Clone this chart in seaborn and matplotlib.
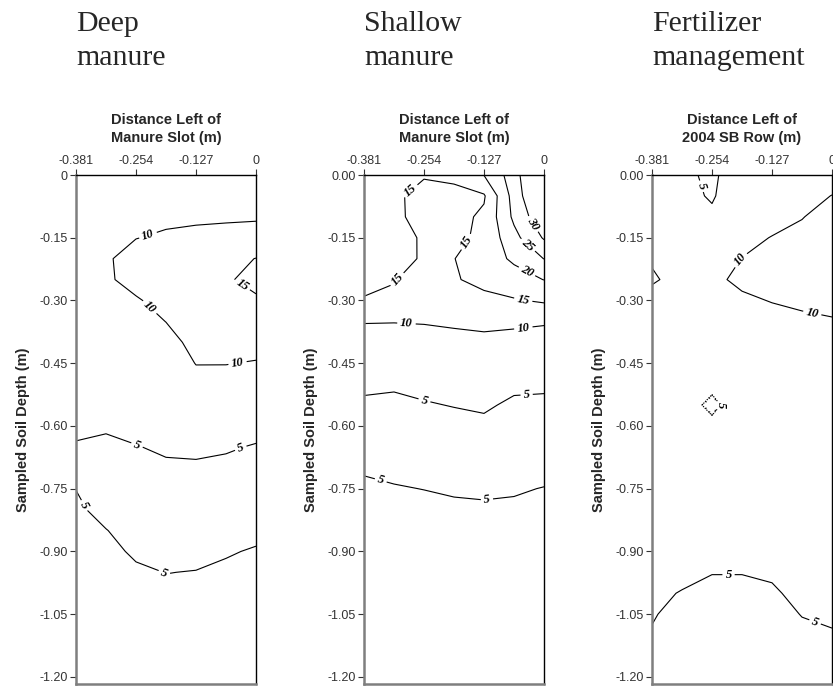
import numpy as np
import pandas as pd
import seaborn as sns
import matplotlib
matplotlib.use("Agg")
import matplotlib.pyplot as plt
from matplotlib import patheffects

# sampling grid: distance left of slot/row (m) and sampled depth (m)
distance = [-0.381, -0.3175, -0.254, -0.1905, -0.127, -0.0635, 0.0]
depth = [0.00, -0.05, -0.10, -0.15, -0.20, -0.25, -0.30, -0.35, -0.40,
         -0.45, -0.50, -0.55, -0.60, -0.65, -0.70, -0.75, -0.80, -0.85,
         -0.90, -0.95, -1.00, -1.05, -1.10, -1.15, -1.20]

# soil values, one list per distance column (top to bottom)
deep_manure = [
    [6.6, 7.0, 7.6, 8.2, 8.7, 8.6, 8.1, 7.6, 7.1, 6.7, 6.3, 5.9, 5.5, 4.8, 4.3, 4.95, 5.6, 6.0, 6.3, 6.5, 6.6, 6.6, 6.6, 6.6, 6.5],
    [6.8, 7.3, 8.0, 8.8, 9.5, 9.4, 8.7, 8.0, 7.4, 6.9, 6.4, 5.9, 5.3, 4.5, 3.9, 3.6, 3.9, 5.1, 5.9, 6.2, 6.4, 6.5, 6.5, 6.5, 6.4],
    [7.0, 7.6, 8.5, 9.9, 11.6, 11.4, 9.6, 8.5, 7.8, 7.3, 6.9, 6.4, 5.8, 4.9, 4.2, 3.7, 3.5, 3.7, 4.5, 5.5, 5.9, 6.1, 6.2, 6.2, 6.1],
    [7.2, 8.0, 9.1, 10.6, 12.0, 12.2, 11.4, 10.05, 8.8, 7.9, 7.2, 6.6, 6.0, 5.4, 4.6, 3.9, 3.5, 3.5, 3.9, 4.95, 5.6, 6.0, 6.1, 6.1, 6.0],
    [7.4, 8.3, 9.4, 10.9, 12.4, 12.8, 12.4, 11.8, 11.0, 10.1, 8.9, 7.8, 6.6, 5.6, 4.6, 3.9, 3.5, 3.6, 4.1, 5.1, 5.7, 6.0, 6.1, 6.1, 6.0],
    [7.8, 8.6, 9.5, 11.2, 13.6, 14.4, 13.6, 12.2, 11.0, 10.1, 8.8, 7.5, 6.2, 5.3, 4.4, 3.8, 3.6, 3.9, 4.8, 5.4, 5.9, 6.2, 6.3, 6.3, 6.2],
    [8.0, 8.8, 9.6, 11.5, 15.1, 16.5, 14.3, 12.6, 11.2, 9.8, 8.4, 7.2, 6.0, 4.8, 4.0, 3.6, 3.8, 4.4, 5.2, 5.8, 6.2, 6.5, 6.6, 6.6, 6.5],
]
shallow_manure = [
    [17.0, 16.8, 16.7, 16.6, 16.3, 15.8, 14.8, 10.15, 8.7, 7.0, 5.6, 4.5, 3.9, 3.8, 4.75, 5.4, 5.9, 6.2, 6.4, 6.5, 6.5, 6.5, 6.5, 6.4, 6.3],
    [16.8, 16.1, 16.1, 16.6, 16.3, 15.16, 14.4, 10.1, 8.7, 7.2, 5.3, 4.5, 4.0, 3.8, 4.3, 5.2, 5.9, 6.2, 6.4, 6.5, 6.5, 6.5, 6.5, 6.4, 6.3],
    [15.5, 13.0, 13.2, 14.5, 14.6, 13.8, 12.8, 10.2, 8.8, 7.2, 5.7, 4.8, 4.0, 3.6, 4.0, 4.95, 5.8, 6.2, 6.4, 6.5, 6.5, 6.5, 6.5, 6.4, 6.3],
    [16.0, 13.7, 13.5, 13.9, 14.9, 14.6, 13.0, 10.6, 8.8, 7.4, 6.2, 5.1, 4.2, 3.6, 3.8, 4.6, 5.6, 6.1, 6.3, 6.4, 6.4, 6.4, 6.4, 6.3, 6.2],
    [20.1, 14.5, 15.8, 16.0, 17.5, 16.3, 13.8, 11.0, 9.0, 7.6, 6.4, 5.4, 4.4, 3.5, 3.7, 4.3, 5.6, 6.1, 6.3, 6.4, 6.4, 6.4, 6.4, 6.3, 6.2],
    [27.5, 27.0, 26.0, 23.5, 20.8, 18.0, 14.6, 10.8, 8.6, 7.2, 5.6, 4.5, 3.7, 3.4, 3.7, 4.7, 5.5, 6.0, 6.2, 6.3, 6.3, 6.3, 6.3, 6.2, 6.1],
    [40.0, 37.5, 34.0, 30.5, 25.1, 20.1, 15.6, 10.4, 8.4, 7.2, 5.5, 4.4, 3.8, 3.6, 4.0, 5.1, 5.8, 6.2, 6.4, 6.5, 6.5, 6.5, 6.5, 6.4, 6.3],
]
fertilizer = [
    [6.0, 6.4, 7.0, 7.9, 9.6, 10.5, 8.5, 7.6, 7.0, 6.6, 6.3, 6.1, 6.0, 6.0, 6.0, 5.9, 5.8, 5.7, 5.5, 5.35, 5.2, 5.1, 4.9, 4.7, 4.5],
    [5.8, 6.2, 6.8, 7.5, 8.3, 8.6, 8.0, 7.4, 6.9, 6.5, 6.2, 5.8, 6.0, 6.1, 6.1, 6.0, 5.9, 5.7, 5.5, 5.25, 4.95, 4.6, 4.4, 4.2, 4.1],
    [4.3, 4.6, 5.7, 7.0, 8.6, 9.5, 8.6, 7.8, 7.0, 6.4, 5.4, 4.6, 5.4, 6.0, 6.0, 5.95, 5.9, 5.8, 5.5, 5.05, 4.6, 4.3, 4.1, 4.0, 3.9],
    [7.4, 7.8, 8.4, 9.2, 10.05, 10.5, 9.6, 8.8, 8.0, 7.4, 6.6, 6.0, 6.2, 6.3, 6.2, 6.1, 6.0, 5.8, 5.5, 5.05, 4.6, 4.4, 4.2, 4.0, 3.9],
    [7.9, 8.4, 9.0, 10.1, 10.9, 10.8, 10.1, 9.2, 8.2, 7.5, 7.0, 6.7, 6.5, 6.4, 6.3, 6.2, 6.1, 5.9, 5.6, 5.2, 4.8, 4.5, 4.3, 4.1, 4.0],
    [8.6, 9.2, 9.85, 11.0, 11.6, 11.4, 10.6, 9.4, 8.3, 7.6, 7.1, 6.8, 6.6, 6.4, 6.3, 6.2, 6.1, 6.0, 5.9, 5.7, 5.4, 5.05, 4.7, 4.4, 4.2],
    [9.0, 10.05, 11.5, 12.5, 13.0, 12.8, 11.5, 9.6, 8.5, 7.8, 7.3, 7.0, 6.8, 6.6, 6.4, 6.3, 6.2, 6.0, 5.9, 5.7, 5.5, 5.2, 4.9, 4.6, 4.3],
]

titles = ["Deep\nmanure", "Shallow\nmanure", "Fertilizer\nmanagement"]
xlabels = ["Distance Left of\nManure Slot (m)", "Distance Left of\nManure Slot (m)",
           "Distance Left of\n2004 SB Row (m)"]
levels = [[5, 10, 15], [5, 10, 15, 20, 25, 30], [5, 10]]
x_ticks = [-0.381, -0.254, -0.127, 0.0]
x_tick_labels = ["-0.381", "-0.254", "-0.127", "0"]
y_ticks = [0.0, -0.15, -0.30, -0.45, -0.60, -0.75, -0.90, -1.05, -1.20]

# where the contour labels sit
label_spots = [
    [(-0.231, -0.136), (-0.224, -0.315), (-0.039, -0.45), (-0.032, -0.267),
     (-0.252, -0.646), (-0.032, -0.654), (-0.355, -0.785), (-0.195, -0.953)],
    [(-0.284, -0.036), (-0.164, -0.16), (-0.305, -0.255), (-0.044, -0.299),
     (-0.033, -0.124), (-0.040, -0.175), (-0.040, -0.239), (-0.291, -0.353),
     (-0.044, -0.363), (-0.252, -0.534), (-0.037, -0.521), (-0.347, -0.736),
     (-0.121, -0.774)],
    [(-0.291, -0.032), (-0.191, -0.205), (-0.043, -0.337), (-0.219, -0.943),
     (-0.036, -1.069)],
]

sns.set_style("white")
plt.rcParams["font.family"] = ["Liberation Sans", "DejaVu Sans"]

label_font = {"font.family": ["Liberation Serif"], "font.weight": "bold",
              "font.style": "italic"}

fig = plt.figure(figsize=(8.33, 6.87), dpi=100)
lefts = [76, 364, 652]

for i, grid in enumerate([deep_manure, shallow_manure, fertilizer]):
    df = pd.DataFrame(np.array(grid).T, index=depth, columns=distance)
    ax = fig.add_axes([lefts[i] / 833, 3 / 687, 180 / 833, 509 / 687])

    z = np.ma.masked_array(df.values, mask=np.zeros(df.shape, bool))
    if i == 2:
        # the small depression is drawn separately with hachures
        z.mask[11, 2] = True
    cs = ax.contour(df.columns, df.index, z, levels=levels[i],
                    colors="black", linewidths=0.8)
    with plt.rc_context(label_font):
        ax.clabel(cs, fmt="%d", fontsize=9, inline=True, inline_spacing=3,
                  manual=label_spots[i])

    if i == 2:
        sub = df.iloc[10:13, 1:4]
        cd = ax.contour(sub.columns, sub.index, sub.values, levels=[5],
                        colors="black", linewidths=0.8,
                        linestyles=[(0, (1.2, 1.0))])
        cd.set_path_effects([patheffects.withTickedStroke(spacing=3.5, angle=90, length=0.5)])
        with plt.rc_context(label_font):
            ax.clabel(cd, fmt="%d", fontsize=9, inline=True, inline_spacing=2,
                      manual=[(-0.230, -0.553)])

    ax.set_xlim(-0.381, 0)
    ax.set_ylim(-1.217, 0)
    ax.xaxis.tick_top()
    ax.xaxis.set_label_position("top")
    ax.set_xticks(x_ticks)
    ax.set_xticklabels(x_tick_labels)
    ax.set_yticks(y_ticks)
    ylabs = [f"{v:.2f}" for v in y_ticks]
    if i == 0:
        ylabs[0] = "0"
    ax.set_yticklabels(ylabs)
    ax.tick_params(axis="both", direction="out", length=4.5, width=0.8,
                   color="#333333", labelsize=9, labelcolor="#333333", pad=1.5)
    ax.tick_params(axis="x", top=True, bottom=False, labeltop=True, labelbottom=False)
    ax.tick_params(axis="y", left=True, right=False)

    for side in ["top", "right"]:
        ax.spines[side].set_color("black")
        ax.spines[side].set_linewidth(1.0)
    for side in ["left", "bottom"]:
        ax.spines[side].set_color("#7f7f7f")
        ax.spines[side].set_linewidth(1.8)

    ax.set_xlabel(xlabels[i], fontsize=10.5, fontweight="bold", labelpad=9,
                  linespacing=1.35)
    ax.set_ylabel("Sampled Soil Depth (m)", fontsize=10.5, fontweight="bold")
    ax.yaxis.set_label_coords(-0.255, 0.5)

    fig.text(lefts[i] / 833, 1 - 11 / 687, titles[i], family="Liberation Serif",
             fontsize=21.5, ha="left", va="top", linespacing=1.42)

fig.savefig("out.png", dpi=100)
